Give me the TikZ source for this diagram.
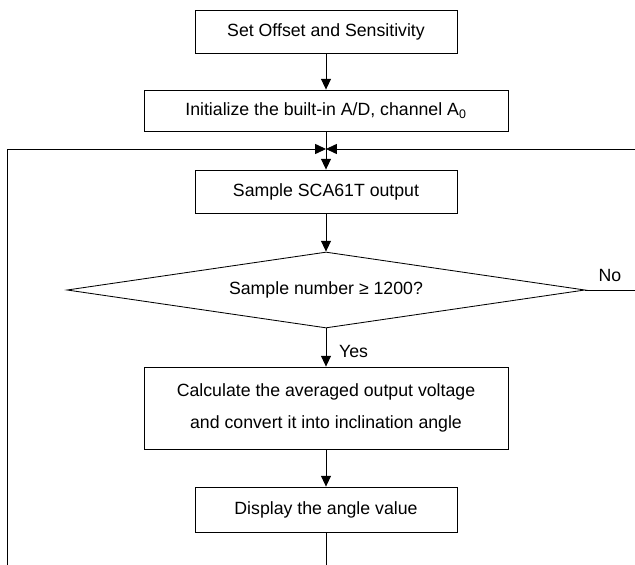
\documentclass[tikz,border=0pt]{standalone}
\usepackage{fontspec}
\setmainfont{Liberation Sans}
\usetikzlibrary{shapes.geometric,arrows.meta}

\begin{document}
\begin{tikzpicture}[
  box/.style={draw, line width=0.6pt, inner sep=0pt, align=center},
  decision/.style={draw, line width=0.6pt, diamond, aspect=6.8, inner sep=0pt, minimum width=12.95cm, minimum height=1.9cm},
  flow/.style={line width=0.6pt, -{Triangle[length=2.7mm,width=2.5mm]}},
  font=\fontsize{12.6}{22.7}\selectfont
]
\useasboundingbox (0,0) rectangle (15.875,14.1);

\node[box, minimum width=6.55cm, minimum height=1.075cm] (offset) at (8.15,13.3125) {Set Offset and Sensitivity};	% Start
\node[box, minimum width=9.1cm, minimum height=1.025cm] (init) at (8.15,11.3375) {Initialize the built-in A/D, channel A\textsubscript{0}};	% A/D
\node[box, minimum width=6.55cm, minimum height=1.075cm] (sample) at (8.15,9.3125) {Sample SCA61T output};	% Messung
\node[decision] (check) at (8.15,6.85) {Sample number ≥ 1200?};	% Abfrage
\node[box, minimum width=9.1cm, minimum height=2.05cm] (calc) at (8.15,3.9) {Calculate the averaged output voltage\\and convert it into inclination angle};	% Rechnung
\node[box, minimum width=6.55cm, minimum height=1.125cm] (display) at (8.15,1.3625) {Display the angle value};	% Anzeige

\coordinate (join) at (8.15,10.375);	% Zusammenfuehrung
\coordinate (loopL) at (0.175,10.375);	% Schleife links
\coordinate (loopR) at (16.2,10.375);	% Schleife rechts
\coordinate (below) at (8.15,-0.5);	% unterhalb

\draw[flow] (offset) -- (init);
\draw[flow] (init) -- (sample);
\draw[flow] (sample) -- (check);
\draw[flow] (check) -- node[right, pos=0.6, xshift=0.2cm] {Yes} (calc);
\draw[flow] (calc) -- (display);

\draw[flow] (check.east) node[above right, xshift=0.2cm, yshift=0.09cm] {No} -| (loopR) -- (join);	% Rueckfuehrung No
\draw[flow] (display) -- (below) -| (loopL) -- (join);	% Rueckfuehrung unten

\end{tikzpicture}
\end{document}
